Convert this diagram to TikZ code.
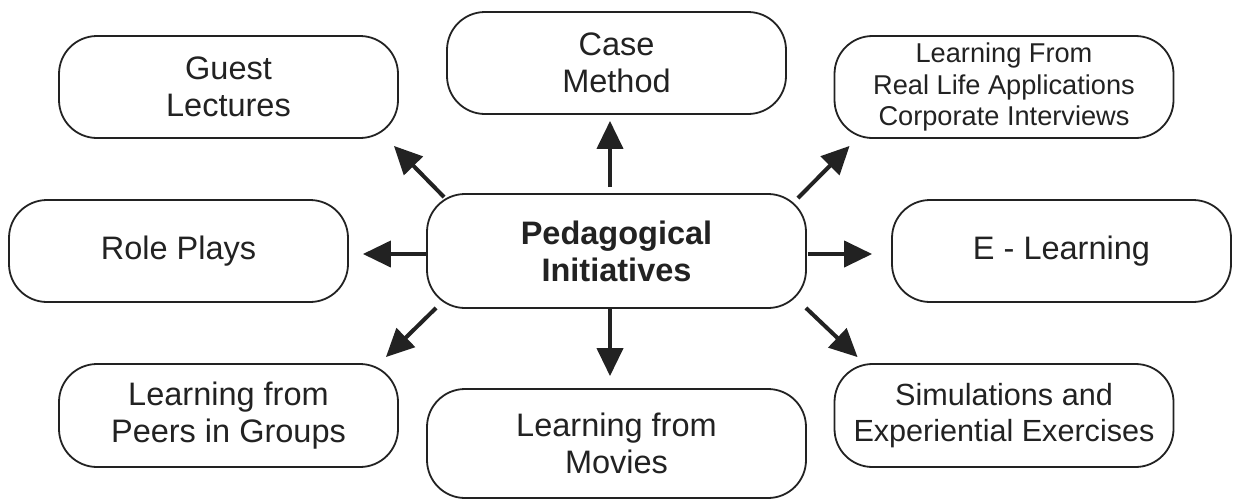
\documentclass[tikz,border=0pt]{standalone}
\usepackage{fontspec}
\setmainfont{Liberation Sans}
\usetikzlibrary{arrows.meta,calc}
\definecolor{ink}{HTML}{222222}
\begin{document}
\begin{tikzpicture}[x=1pt,y=-1pt,
  box/.style={draw=ink,line width=1.8pt,rounded corners=38pt,align=center,text=ink,inner sep=0pt,
    minimum width=339pt,minimum height=102pt,font=\fontsize{32.5}{37}\selectfont},
  conn/.style={draw=ink,line width=4pt,-{Triangle[length=28pt,width=26pt]}}]
\useasboundingbox (0,0) rectangle (1233,499);
\fill[white] (0,0) rectangle (1233,499);
\node[box] (GL) at (228.5,87) {Guest\\Lectures};
\node[box] (CM) at (616.5,63) {Case\\Method};
\node[box,font=\fontsize{27.2}{31.5}\selectfont] (LF) at (1004,87) {Learning From\\Real Life Applications\\Corporate Interviews};
\node[box] (RP) at (178.5,251) {Role Plays};
\node[box,minimum width=379pt,minimum height=114pt,font=\fontsize{32.5}{37}\selectfont\bfseries] (PI) at (616.5,251) {Pedagogical\\Initiatives};
\node[box] (EL) at (1061.5,251) {E - Learning};
\node[box,minimum height=103pt] (PG) at (228.5,415.5) {Learning from\\Peers in Groups};
\node[box,minimum width=379pt,minimum height=109pt] (LM) at (616.5,443.5) {Learning from\\Movies};
\node[box,minimum height=103pt,font=\fontsize{30.6}{35.5}\selectfont] (SE) at (1004,415.5) {Simulations and\\Experiential Exercises};
\draw[conn] ($(PI.north west)+(18,4)$) -- ($(GL.south east)+(-5,7)$);
\draw[conn] ($(PI.north)+(-6.5,-6)$) -- ($(CM.south)+(-6.5,6)$);
\draw[conn] ($(PI.north east)+(-9,5)$) -- ($(LF.south west)+(16,7)$);
\draw[conn] ($(PI.west)+(0,3)$) -- ($(RP.east)+(14,3)$);
\draw[conn] ($(PI.east)+(1,3)$) -- ($(EL.west)+(-19,3)$);
\draw[conn] ($(PI.south west)+(10,-1)$) -- ($(PG.north east)+(-13,-6)$);
\draw[conn] ($(PI.south)+(-6.5,0)$) -- ($(LM.north)+(-6.5,-12)$);
\draw[conn] ($(PI.south east)+(-1,-1)$) -- ($(SE.north west)+(24,-6)$);
\end{tikzpicture}
\end{document}
